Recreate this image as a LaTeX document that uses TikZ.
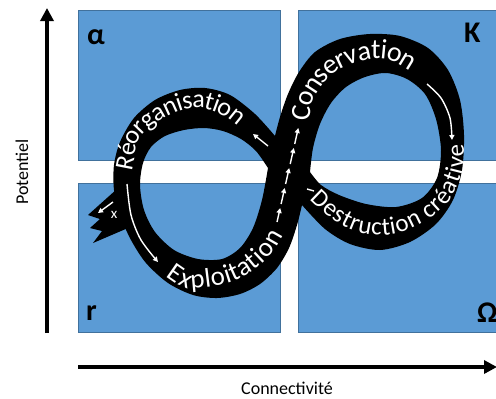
\documentclass[tikz,border=0pt]{standalone}
\usepackage{fontspec}
\setmainfont{Carlito}
\usetikzlibrary{arrows.meta,decorations.text}
\definecolor{quad}{HTML}{5B9BD5}
\definecolor{quadedge}{HTML}{41719C}
\begin{document}
\begin{tikzpicture}[x=1pt,y=-1pt,
  quadbox/.style={fill=quad,draw=quadedge,line width=0.8pt},
  axisarrow/.style={line width=3.5pt,-{Triangle[length=13pt,width=13pt]}},
  flow/.style={white,line width=1.4pt,-{Triangle[length=5pt,width=5pt]}},
  corner/.style={font=\fontsize{30}{30}\selectfont\bfseries,inner sep=0pt,anchor=base west},
  axislabel/.style={font=\fontsize{18}{18}\selectfont,inner sep=0pt}
]
\useasboundingbox (0,0) rectangle (496,399);
\clip (0,0) rectangle (496,399);

% quadrants
\draw[quadbox] (78,10) rectangle (280,160);
\draw[quadbox] (298,10) rectangle (500,160);
\draw[quadbox] (78,183) rectangle (280,332);
\draw[quadbox] (298,183) rectangle (500,332);

\node[corner] (alpha) at (87,44) {α};
\node[corner] (kapa) at (464,42) {K};
\node[corner] (rr) at (86,320) {r};
\node[corner] (omega) at (477,322) {Ω};

% axes
\coordinate (vbot) at (47,333);
\coordinate (vtop) at (47,8);
\coordinate (hleft) at (78,367);
\coordinate (hright) at (497,367);
\draw[axisarrow] (vbot) -- (vtop);
\draw[axisarrow] (hleft) -- (hright);
\node[axislabel,rotate=90] (pot) at (22,172) {Potentiel};
\node[axislabel] (con) at (287,388) {Connectivité};

% ribbon
\fill[black,even odd rule]
  plot[smooth] coordinates {(275,136) (280,117) (288,94) (299,72) (315,52) (340,39) (370,34) (400,36) (428,48) (448,70) (460,100) (464,135) (462,170) (453,200) (436,224) (410,242) (380,250) (350,244) (325,229) (302,205)}
  -- plot[smooth] coordinates {(302,205) (297,225) (289,248) (277,268) (260,284) (240,294) (217,298) (193,295) (168,283) (146,263) (131,240) (120,215) (114,190) (114,165) (120,142) (134,118) (155,100) (180,90) (205,88) (230,95) (255,114) (275,136)}
  -- cycle
  plot[smooth] coordinates {(268,168) (256,151) (241,139) (223,131) (204,128) (184,130) (165,136) (151,147) (143,163) (140,185) (144,210) (155,232) (174,250) (198,259) (222,259) (240,248) (253,228) (262,200) (268,168)} -- cycle
  plot[smooth] coordinates {(310,172) (313,148) (320,124) (331,103) (346,87) (365,77) (386,73) (407,79) (425,94) (436,119) (441,150) (437,178) (422,198) (396,207) (366,204) (339,195) (321,185) (310,172)} -- cycle;
% torn tail
\fill[black] (117,189) -- (88,215) -- (100,219) -- (90,228) -- (102,231) -- (93,243) -- (128,228) -- cycle;

% texts on ribbon
\path[decorate,decoration={text along path,raise=-6pt,text color=white,
  text={|\fontsize{26}{26}\selectfont|Réorganisation}}]
  plot[smooth] coordinates {(126,170) (128,160) (131,142) (139,130) (150,120) (165,111) (182,104) (200,102) (217,106) (233,115) (246,126) (258,138) (266,150)};
\path[decorate,decoration={text along path,raise=-6pt,text color=white,
  text={|\fontsize{27}{27}\selectfont|Exploitation}}]
  plot[smooth] coordinates {(169,271) (187,282) (208,281) (228,277) (245,269) (260,257) (272,243) (280,228) (285,212)};
\path[decorate,decoration={text along path,raise=-6pt,text color=white,
  text={|\fontsize{28}{28}\selectfont|Conservation}}]
  plot[smooth] coordinates {(304,121) (307,100) (314,86) (324,74) (337,64) (353,57) (371,53) (389,54) (406,61) (421,72) (433,86) (441,100)};
\path[decorate,decoration={text along path,raise=-6pt,text color=white,
  text={|\fontsize{25}{25}\selectfont|Destruction créative}}]
  plot[smooth] coordinates {(314,195) (330,210) (345,220) (362,227) (380,229) (397,227) (414,220) (430,211) (443,199) (452,184) (457,168) (458,152) (456,136)};

% flow arrows
\coordinate (la1) at (127,184);
\coordinate (la2) at (158,262);
\draw[flow] plot[smooth] coordinates {(la1) (131,215) (141,240) (la2)};
\coordinate (ra1) at (268,146);
\coordinate (ra2) at (253,134);
\draw[flow] (ra1) -- (ra2);
\coordinate (u1a) at (277,222); \coordinate (u1b) at (280.2,208);
\coordinate (u2a) at (281.1,204); \coordinate (u2b) at (284.7,188);
\coordinate (u3a) at (285.6,184); \coordinate (u3b) at (289.2,168);
\coordinate (u4a) at (290.2,164); \coordinate (u4b) at (293.8,148);
\coordinate (u5a) at (294.7,144); \coordinate (u5b) at (298.3,128);
\draw[flow] (u1a) -- (u1b);
\draw[flow] (u2a) -- (u2b);
\draw[flow] (u3a) -- (u3b);
\draw[flow] (u4a) -- (u4b);
\draw[flow] (u5a) -- (u5b);
\coordinate (ca1) at (427,84);
\coordinate (ca2) at (452,140);
\draw[flow] plot[smooth] coordinates {(ca1) (441,98) (450,118) (ca2)};
\coordinate (d1) at (307,189);
\coordinate (d2) at (314,191);
\draw[white,line width=1.4pt] (d1) -- (d2);
\coordinate (xa1) at (113,202);
\coordinate (xa2) at (98,213);
\draw[flow] (xa1) -- (xa2);
\node[text=white,font=\fontsize{15}{15}\selectfont,inner sep=0pt] (xlab) at (114,215) {x};
\end{tikzpicture}
\end{document}
